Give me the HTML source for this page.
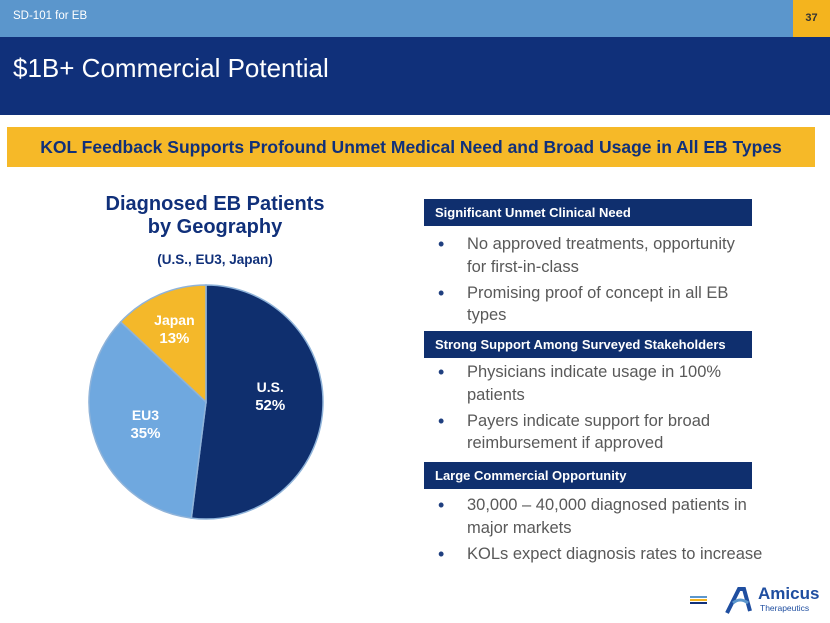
<!DOCTYPE html>
<html><head><meta charset="utf-8"><style>
body{margin:0;width:830px;height:623px;position:relative;overflow:hidden;background:#fff;font-family:"Liberation Sans",sans-serif}
.a{position:absolute}
.hdr{position:absolute;left:424px;width:328px;height:27px;background:#0f2f6e;color:#fff;font-weight:bold;font-size:13px;line-height:27px;padding-left:11px;box-sizing:border-box}
.ln{position:absolute;left:467px;color:#595959;font-size:16.5px;line-height:20px;white-space:nowrap}
.bl{position:absolute;left:438px;color:#1f3f7f;font-size:18px;line-height:20px}
</style></head><body>
<div class="a" style="left:0;top:0;width:793px;height:37px;background:#5b96cc"></div>
<div class="a" style="left:13px;top:10px;color:#fff;font-size:11.5px">SD-101 for EB</div>
<div class="a" style="left:793px;top:0;width:37px;height:37px;background:#f4b41e;color:#333;font-size:11px;font-weight:bold;line-height:37px;text-align:center">37</div>
<div class="a" style="left:0;top:37px;width:830px;height:78px;background:#10307a"></div>
<div class="a" style="left:13px;top:53px;color:#fff;font-size:26px">$1B+ Commercial Potential</div>
<div class="a" style="left:7px;top:127px;width:808px;height:40px;background:#f6b928;color:#10307a;font-weight:bold;font-size:17.5px;line-height:40px;text-align:center">KOL Feedback Supports Profound Unmet Medical Need and Broad Usage in All EB Types</div>
<div class="a" style="left:60px;top:193px;width:310px;text-align:center;color:#10307a;font-weight:bold;font-size:20px;line-height:23px">Diagnosed EB Patients<br>by Geography</div>
<div class="a" style="left:60px;top:252px;width:310px;text-align:center;color:#10307a;font-weight:bold;font-size:13.5px">(U.S., EU3, Japan)</div>
<svg class="a" id="pie" style="left:0;top:0" width="830" height="623"></svg>
<div class="hdr" style="top:199px">Significant Unmet Clinical Need</div>
<div class="bl" style="top:234px">•</div>
<div class="ln" style="top:234px">No approved treatments, opportunity</div>
<div class="ln" style="top:257px">for first-in-class</div>
<div class="bl" style="top:283px">•</div>
<div class="ln" style="top:283px">Promising proof of concept in all EB</div>
<div class="ln" style="top:305px">types</div>
<div class="hdr" style="top:331px">Strong Support Among Surveyed Stakeholders</div>
<div class="bl" style="top:362px">•</div>
<div class="ln" style="top:362px">Physicians indicate usage in 100%</div>
<div class="ln" style="top:385px">patients</div>
<div class="bl" style="top:411px">•</div>
<div class="ln" style="top:411px">Payers indicate support for broad</div>
<div class="ln" style="top:433px">reimbursement if approved</div>
<div class="hdr" style="top:462px">Large Commercial Opportunity</div>
<div class="bl" style="top:495px">•</div>
<div class="ln" style="top:495px">30,000 – 40,000 diagnosed patients in</div>
<div class="ln" style="top:518px">major markets</div>
<div class="bl" style="top:544px">•</div>
<div class="ln" style="top:544px">KOLs expect diagnosis rates to increase</div>
<div class="a" style="left:690px;top:596px;width:17px">
<div style="height:2px;background:#5b96cc"></div><div style="height:1px"></div><div style="height:2px;background:#f4b41e"></div><div style="height:1px"></div><div style="height:2px;background:#10307a"></div></div>
<svg class="a" style="left:724px;top:585px" width="30" height="30"><path d="M3 28 L15 4 L20 4 L26 26" stroke="#1f4ea0" stroke-width="4" fill="none"/><path d="M9 18 Q16 12 24 18" stroke="#5b96cc" stroke-width="3" fill="none"/></svg>
<div class="a" style="left:758px;top:585px;color:#1f4ea0;font-weight:bold;font-size:17px;line-height:18px">Amicus</div>
<div class="a" style="left:760px;top:603px;color:#1f4ea0;font-size:8.5px">Therapeutics</div>
<script>
const categories=["U.S.","EU3","Japan"];
const values=[52,35,13];
const labels=["52%","35%","13%"];
const colors=["#0f2f6e","#6fa8df","#f4b82a"];
const cx=206,cy=402,r=117;
const svg=document.getElementById('pie');
const ns="http://www.w3.org/2000/svg";
const total=values.reduce((a,b)=>a+b,0);
let ang=-Math.PI/2;
function pt(a,rr){return [cx+rr*Math.cos(a),cy+rr*Math.sin(a)];}
values.forEach((v,i)=>{
 const da=v/total*2*Math.PI,a2=ang+da;
 const p1=pt(ang,r),p2=pt(a2,r);
 const p=document.createElementNS(ns,'path');
 p.setAttribute('d',`M${cx},${cy} L${p1[0]},${p1[1]} A${r},${r} 0 ${da>Math.PI?1:0} 1 ${p2[0]},${p2[1]} Z`);
 p.setAttribute('fill',colors[i]);
 p.setAttribute('stroke','#8fb3d9');p.setAttribute('stroke-width','1.5');
 
 
 svg.appendChild(p);
 const m=ang+da/2,rl=i==2?0.68:0.55,lp=pt(m,r*rl);
 const dy=i==0?-10:0;
 [categories[i],labels[i]].forEach((t,j)=>{
  const tx=document.createElementNS(ns,'text');
  tx.setAttribute('x',lp[0]);tx.setAttribute('y',lp[1]+dy+(j?14:-4));
  tx.setAttribute('text-anchor','middle');tx.setAttribute('fill','#fff');
  tx.setAttribute('font-weight','bold');tx.setAttribute('font-size',j?'15':'14');
  tx.setAttribute('font-family','Liberation Sans, sans-serif');
  
  
  tx.textContent=t;svg.appendChild(tx);
 });
 ang=a2;
});
</script>
</body></html>
